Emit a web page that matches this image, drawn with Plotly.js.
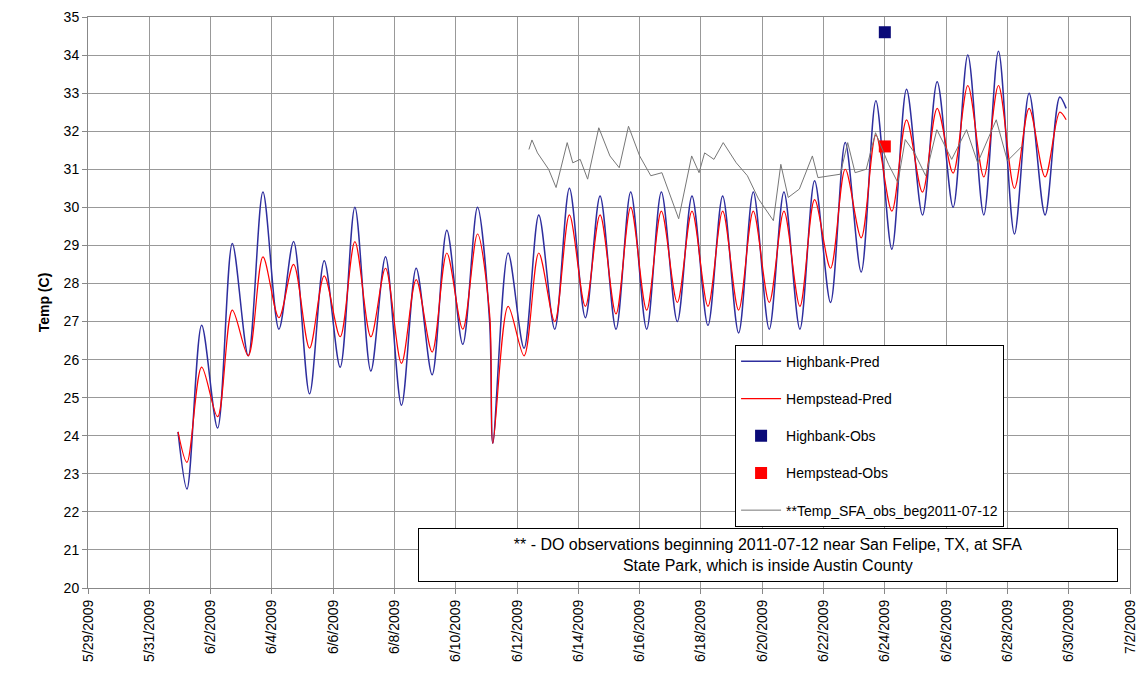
<!DOCTYPE html>
<html>
<head>
<meta charset="utf-8">
<script src="https://cdn.plot.ly/plotly-3.0.1.min.js"></script>
<style>body{margin:0;background:#fff}#chart{width:1141px;height:696px}</style>
</head>
<body>
<div id="chart"></div>
<script>
// days of June with one morning low and one afternoon high each
const days = [];
for (let d = 1; d <= 29; d++) days.push(d);

// Highbank-Pred [low, high] per day
const highLow  = [22.6,24.2,26.1,26.8,25.1,25.8,25.7,24.8,25.6,26.4,23.8,26.3,26.8,27.1,26.8,26.8,27.0,26.9,26.7,26.8,26.8,27.5,28.3,28.9,29.8,30.0,29.8,29.3,29.8];
const highHigh = [26.9,29.05,30.4,29.1,28.6,30.0,28.7,28.4,29.4,30.0,28.8,29.8,30.5,30.3,30.4,30.4,30.3,30.3,30.4,30.4,30.7,31.7,32.8,33.1,33.3,34.0,34.1,33.0,32.9];
// Hempstead-Pred [low, high] per day
const hempLow  = [23.3,24.5,26.1,27.1,26.3,26.6,26.6,25.9,26.2,26.8,23.8,26.1,27.0,27.4,27.2,27.3,27.5,27.4,27.3,27.5,27.4,28.4,29.2,29.9,30.4,30.9,30.8,30.5,30.8];
const hempHigh = [25.8,27.3,28.7,28.5,28.2,29.1,28.4,28.1,28.8,29.3,27.4,28.8,29.8,29.8,30.0,29.9,29.9,29.9,29.9,29.9,30.2,31.0,31.9,32.3,32.6,33.2,33.2,32.6,32.5];
const highStartEnd = [24.1, 32.6];
const hempStartEnd = [24.1, 32.3];
const preDip = [27.0, 27.2]; // values at 6/11 02:00 before the sharp dip

// SFA observations
const sfaT = ['2009-06-12 09:18','2009-06-12 11:40','2009-06-12 16:00','2009-06-13 00:43','2009-06-13 06:33','2009-06-13 15:16','2009-06-13 19:38','2009-06-14 01:27','2009-06-14 07:16','2009-06-14 16:00','2009-06-15 00:43','2009-06-15 08:00','2009-06-15 15:16','2009-06-16 00:00','2009-06-16 08:44','2009-06-16 17:27','2009-06-17 06:33','2009-06-17 16:44','2009-06-17 22:32','2009-06-18 02:54','2009-06-18 10:11','2009-06-18 17:27','2009-06-19 03:38','2009-06-19 12:22','2009-06-19 21:05','2009-06-20 08:44','2009-06-20 14:33','2009-06-20 20:21','2009-06-21 05:05','2009-06-21 15:16','2009-06-21 19:38','2009-06-22 04:22','2009-06-22 13:05','2009-06-22 18:55','2009-06-23 00:43','2009-06-23 09:27','2009-06-23 16:44','2009-06-24 02:54','2009-06-24 10:11','2009-06-24 16:00','2009-06-24 23:17','2009-06-25 08:00','2009-06-25 16:44','2009-06-26 04:22','2009-06-26 16:00','2009-06-27 00:43','2009-06-27 15:16','2009-06-28 00:00','2009-06-28 11:38'];
const sfaV = [31.52,31.77,31.43,31.0,30.52,31.70,31.17,31.26,30.74,32.09,31.35,31.04,32.13,31.35,30.83,30.91,29.70,31.35,30.91,31.43,31.26,31.70,31.17,30.83,30.22,29.65,31.13,30.26,30.48,31.35,30.78,30.83,30.87,31.70,30.91,31.0,31.96,31.13,30.65,31.78,31.43,30.83,32.04,31.26,32.04,31.17,32.30,31.22,31.61];

const obsT = ['2009-06-24 00:00'];
const highObs = [34.6];
const hempObs = [31.6];

function series(lows, highs, se, dip) {
  const x = ['2009-05-31 22:30'], y = [se[0]];
  days.forEach((d, i) => {
    const dd = '2009-06-' + String(d).padStart(2, '0');
    if (d === 11) { x.push(dd + ' 02:30'); y.push(dip); x.push(dd + ' 05:00'); }
    else x.push(dd + ' 05:30');
    y.push(lows[i]);
    x.push(dd + ' 17:00'); y.push(highs[i]);
  });
  x.push('2009-06-29 22:00'); y.push(se[1]);
  return {x, y};
}
const hb = series(highLow, highHigh, highStartEnd, preDip[0]);
const hs = series(hempLow, hempHigh, hempStartEnd, preDip[1]);

const traces = [
  {x: hb.x, y: hb.y, name: 'Highbank-Pred', mode: 'lines', line: {color: '#2e2e9e', width: 1.5, shape: 'spline', smoothing: 0.9}, legendgroup: 'a'},
  {x: hs.x, y: hs.y, name: 'Hempstead-Pred', mode: 'lines', line: {color: '#ff0000', width: 1.2, shape: 'spline', smoothing: 0.9}, legendgroup: 'b'},
  {x: obsT, y: highObs, name: 'Highbank-Obs', mode: 'markers', marker: {color: '#0a0a78', symbol: 'square', size: 12}, legendgroup: 'c'},
  {x: obsT, y: hempObs, name: 'Hempstead-Obs', mode: 'markers', marker: {color: '#ff0000', symbol: 'square', size: 12}, legendgroup: 'd'},
  {x: sfaT, y: sfaV, name: '**Temp_SFA_obs_beg2011-07-12', mode: 'lines', line: {color: '#777', width: 1}, legendgroup: 'e'}
];

const layout = {
  width: 1141, height: 696,
  margin: {l: 88, r: 11, t: 17, b: 108},
  paper_bgcolor: '#fff', plot_bgcolor: '#fff',
  font: {family: 'Liberation Sans, Arial, sans-serif', size: 14, color: '#000'},
  xaxis: {
    type: 'date', range: ['2009-05-29', '2009-07-02'],
    tick0: '2009-05-29', dtick: 2 * 86400000, tickformat: '%-m/%-d/%Y', tickangle: -90,
    showgrid: true, gridcolor: '#999', gridwidth: 1, linecolor: '#888', mirror: true, showline: true,
    ticks: 'outside', ticklen: 5, tickcolor: '#888', zeroline: false
  },
  yaxis: {
    range: [20, 35], dtick: 1, showgrid: true, gridcolor: '#999', gridwidth: 1,
    linecolor: '#888', mirror: true, showline: true, ticks: 'outside', ticklen: 5, tickcolor: '#888',
    title: {text: '<b>Temp (C)</b>', font: {size: 14}, standoff: 10}, zeroline: false
  },
  legend: {
    x: 0.621, y: 0.426, xanchor: 'left', yanchor: 'top',
    bordercolor: '#000', borderwidth: 1, bgcolor: '#fff',
    traceorder: 'grouped', tracegroupgap: 16, font: {size: 14}, itemwidth: 40,
    entrywidth: 345
  },
  annotations: [{
    xref: 'paper', yref: 'paper', x: 0.6525, y: 0.058, xanchor: 'center', yanchor: 'middle',
    text: '** - DO observations beginning 2011-07-12 near San Felipe, TX, at SFA<br>State Park, which is inside Austin County',
    showarrow: false, bordercolor: '#000', borderwidth: 1, bgcolor: '#fff',
    width: 696, height: 50, font: {size: 16}
  }]
};
Plotly.newPlot('chart', traces, layout, {displayModeBar: false});
</script>
</body>
</html>
